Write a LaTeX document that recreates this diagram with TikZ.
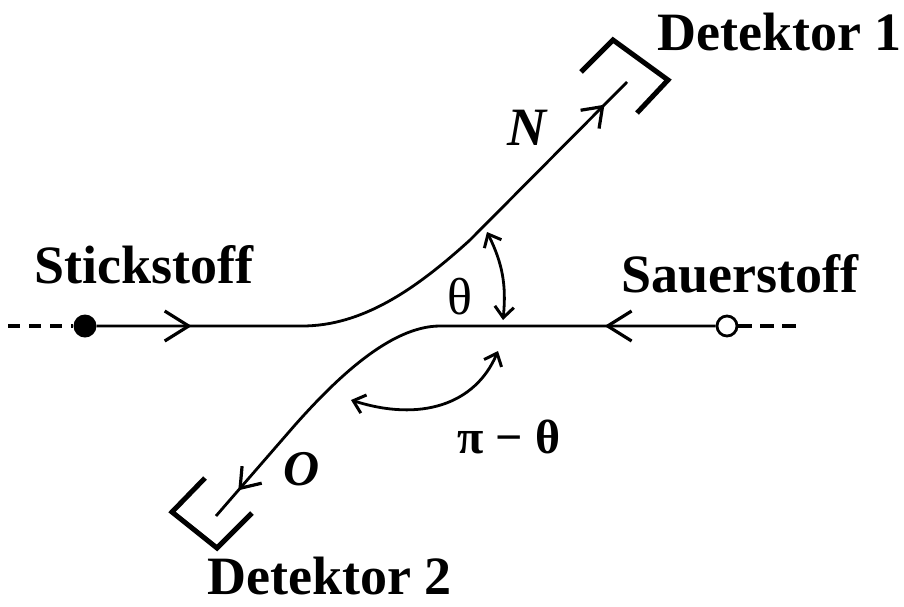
\documentclass[tikz,border=0pt]{standalone}
\usepackage{fontspec}
\setmainfont{Liberation Serif}
\usetikzlibrary{arrows.meta,decorations.markings}
\begin{document}
\begin{tikzpicture}[x=1pt,y=-1pt,
  lbl/.style={font=\fontsize{54}{60}\selectfont\bfseries, inner sep=0pt},
  main/.style={line width=2.8pt},
  detbox/.style={line width=5pt, line join=miter},
  bigbarb/.tip={Straight Barb[length=24pt,width=30pt,line width=3.2pt]},
  smallbarb/.tip={Straight Barb[length=18pt,width=26pt,line width=3.2pt]},
  arcbarb/.tip={Straight Barb[length=11pt,width=19pt,line width=3pt]}]
\useasboundingbox (0,0) rectangle (904,606);

% particles
\node[circle, fill, inner sep=0pt, minimum size=23pt] (nd) at (85,326) {};
\node[circle, draw, line width=2.8pt, fill=white, inner sep=0pt, minimum size=20pt] (od) at (727,326) {};
\coordinate (ldash) at (8,326);
\coordinate (rdash) at (801,326);
\draw[line width=3.4pt, dash pattern=on 12pt off 9pt] (ldash) -- (nd);
\draw[line width=3.4pt, dash pattern=on 14pt off 8pt] (od) -- (rdash);

% trajectory N
\coordinate (u1) at (302,326);
\coordinate (u2) at (470,240);
\coordinate (nend) at (627,82);
\draw[main, postaction={decorate}, decoration={markings,
    mark=at position 95pt with {\arrow{bigbarb}},
    mark=at position -32pt with {\arrow{smallbarb}}}]
  (nd) -- (u1) .. controls (362,326) and (415,290) .. (u2) -- (nend);

% trajectory O
\coordinate (l1) at (440,326);
\coordinate (l2) at (295,425);
\coordinate (oend) at (216,516);
\draw[main, postaction={decorate}, decoration={markings,
    mark=at position 111pt with {\arrow{bigbarb}},
    mark=at position -34pt with {\arrow{smallbarb}}}]
  (od) -- (l1) .. controls (390,326) and (335,380) .. (l2) -- (oend);

% detectors
\draw[detbox] (581,72) -- (613,40) -- (668,80) -- (637,113);
\draw[detbox] (205,478) -- (172,512) -- (217,548) -- (252,513);

% angles
\coordinate (t1) at (487,232);
\coordinate (t2) at (503,320);
\draw[main, {arcbarb}-{arcbarb}] (t1) to[bend left=16] (t2);
\coordinate (p1) at (498,351);
\coordinate (p2) at (351,400);
\draw[main, {arcbarb}-{arcbarb}] (p1) .. controls (475,405) and (420,422) .. (p2);

% labels
\node[lbl, anchor=base west] (d1) at (657,50) {Detektor 1};
\node[lbl, anchor=base west] (d2) at (207,594) {Detektor 2};
\node[lbl, anchor=base west] (st) at (34,283) {Stickstoff};
\node[lbl, anchor=base west] (sa) at (621,292) {Sauerstoff};
\node[lbl, font=\fontsize{54}{60}\selectfont\bfseries\itshape] (nl) at (527,128) {N};
\node[lbl, font=\fontsize{50}{60}\selectfont\bfseries\itshape] (ol) at (302,469) {O};
\node[lbl, font=\fontsize{52}{60}\selectfont] (th) at (460,297) {θ};
\node[lbl, font=\fontsize{48}{60}\selectfont\bfseries] (pt) at (509,437) {π − θ};
\end{tikzpicture}
\end{document}
